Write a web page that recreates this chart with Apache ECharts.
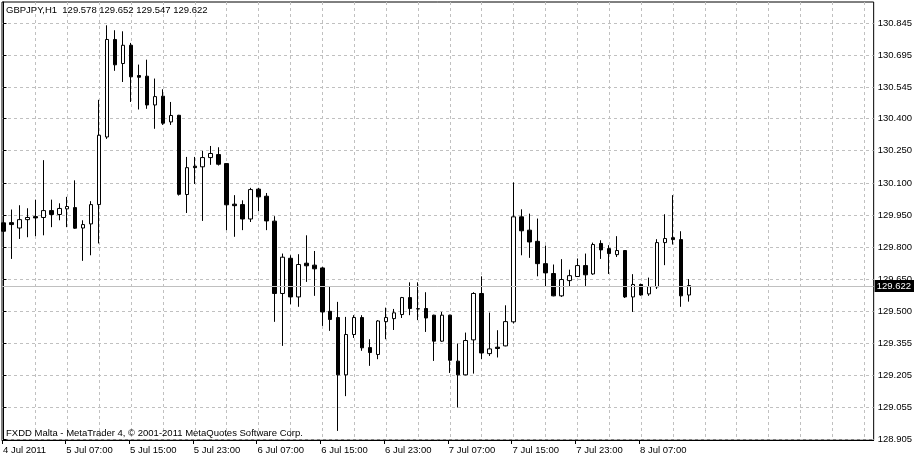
<!DOCTYPE html>
<html><head><meta charset="utf-8">
<script src="https://cdn.jsdelivr.net/npm/echarts@6/dist/echarts.min.js"></script>
<style>html,body{margin:0;padding:0;background:#fff}#c{width:915px;height:458px}</style>
</head><body><div id="c"></div>
<script>
// GBPJPY H1 candles (index 0 = 4 Jul 2011 23:00)
const opens = [129.914,129.915,129.890,129.929,129.943,129.939,129.971,129.953,129.979,129.985,
129.890,129.909,129.999,130.314,130.768,130.656,130.741,130.600,130.597,130.463,
130.504,130.384,130.415,130.046,130.178,130.175,130.218,130.232,130.190,130.001,
129.999,129.932,130.071,130.038,129.922,129.585,129.749,129.569,129.726,129.717,
129.704,129.502,129.473,129.206,129.394,129.473,129.333,129.301,129.454,129.468,
129.487,129.566,129.514,129.515,129.484,129.363,129.484,129.270,129.206,129.369,
129.585,129.305,129.335,129.341,129.453,129.942,129.880,129.828,129.724,129.678,
129.574,129.645,129.664,129.715,129.676,129.818,129.794,129.766,129.785,129.569,
129.627,129.583,129.616,129.822,129.845,129.836,129.578];
const closes = [129.875,129.906,129.929,129.939,129.937,129.971,129.953,129.981,129.990,129.889,
129.906,129.999,130.322,130.768,130.650,130.741,130.594,130.592,130.463,130.502,
130.378,130.414,130.047,130.171,130.171,130.218,130.237,130.187,129.998,129.994,
129.932,130.069,130.035,129.923,129.585,129.754,129.569,129.720,129.714,129.700,
129.499,129.464,129.206,129.394,129.473,129.332,129.310,129.457,129.473,129.495,
129.566,129.515,129.513,129.471,129.363,129.484,129.274,129.206,129.366,129.585,
129.308,129.327,129.329,129.454,129.942,129.877,129.825,129.724,129.681,129.574,
129.650,129.668,129.715,129.672,129.813,129.788,129.771,129.785,129.569,129.627,
129.578,129.617,129.822,129.841,129.836,129.574,129.622];
const lows = [129.844,129.746,129.839,129.847,129.852,129.856,129.894,129.926,129.894,129.886,
129.737,129.763,129.818,130.305,130.622,130.570,130.477,130.442,130.445,130.352,
130.370,130.370,130.041,129.960,130.095,129.923,130.184,130.181,129.880,129.849,
129.880,129.918,129.968,129.880,129.453,129.341,129.535,129.523,129.639,129.574,
129.434,129.411,128.945,129.107,129.378,129.318,129.248,129.279,129.372,129.415,
129.471,129.484,129.461,129.406,129.271,129.360,129.215,129.054,129.204,129.212,
129.279,129.294,129.287,129.339,129.445,129.763,129.751,129.665,129.616,129.572,
129.569,129.616,129.662,129.620,129.672,129.746,129.676,129.755,129.564,129.499,
129.575,129.574,129.606,129.717,129.813,129.523,129.547];
const highs = [130.024,129.976,129.996,129.982,130.022,130.206,130.022,130.005,130.035,130.112,
129.926,130.015,130.487,130.834,130.811,130.806,130.752,130.651,130.674,130.586,
130.536,130.477,130.417,130.221,130.221,130.249,130.272,130.266,130.192,130.043,
130.019,130.077,130.077,130.053,129.945,129.771,129.763,129.768,129.856,129.783,
129.709,129.616,129.546,129.476,129.484,129.484,129.372,129.461,129.519,129.513,
129.569,129.637,129.637,129.591,129.486,129.499,129.486,129.352,129.403,129.591,
129.665,129.496,129.414,129.530,130.102,129.977,129.957,129.934,129.808,129.720,
129.745,129.696,129.748,129.771,129.822,129.833,129.810,129.852,129.787,129.675,
129.631,129.659,129.838,129.954,130.043,129.875,129.652];

const xLabelIndex = [0,8,16,24,32,40,48,56,64,72,80];
const xLabels = ['4 Jul 2011','5 Jul 07:00','5 Jul 15:00','5 Jul 23:00','6 Jul 07:00','6 Jul 15:00',
  '6 Jul 23:00','7 Jul 07:00','7 Jul 15:00','7 Jul 23:00','8 Jul 07:00'];
const yTicks = [128.905,129.055,129.205,129.355,129.500,129.650,129.800,129.950,130.100,130.250,130.400,130.545,130.695,130.845];
const lastPrice = 129.622;
const titleText = 'GBPJPY,H1  129.578 129.652 129.547 129.622';
const footerText = 'FXDD Malta - MetaTrader 4, \u00a9 2001-2011 MetaQuotes Software Corp.';

const FONT = 'Liberation Sans';
const FS = 9.5;
const xMin = -0.1875, xMax = 109.1875;
const xGridIdx = [];
for (let i = 4; i <= 108; i += 4) xGridIdx.push(i);
const xTickPos = xLabelIndex.map(i => Math.max(i - 0.25, xMin));

const candleData = opens.map((o, i) => [i, o, closes[i], lows[i], highs[i]]);

const chart = echarts.init(document.getElementById('c'), null, {renderer: 'canvas'});
chart.setOption({
  animation: false,
  backgroundColor: '#fff',
  title: [
    {text: titleText, left: 6, top: 5, padding: 0,
     textStyle: {fontFamily: FONT, fontSize: FS, fontWeight: 'normal', color: '#000'}},
    {text: footerText, left: 6, top: 428, padding: 0,
     textStyle: {fontFamily: FONT, fontSize: FS, fontWeight: 'normal', color: '#000'}}
  ],
  grid: {left: 2, top: 2, right: 38, bottom: 18, show: true, borderColor: '#000', borderWidth: 1, backgroundColor: 'transparent'},
  xAxis: [
    {type: 'value', min: xMin, max: xMax, position: 'bottom',
     axisLine: {show: true, onZero: false, lineStyle: {color: '#000'}},
     axisTick: {show: true, customValues: xTickPos, length: 4, lineStyle: {color: '#000'}},
     axisLabel: {show: true, customValues: xTickPos, align: 'left', margin: 5, padding: [0,0,0,1],
       fontFamily: FONT, fontSize: FS, color: '#000',
       formatter: v => { const k = xLabelIndex.indexOf(Math.round((v + 0.25) / 8) * 8); return k >= 0 ? xLabels[k] : ''; }},
     splitLine: {show: false}},
    {type: 'value', min: xMin, max: xMax, position: 'top',
     axisLine: {show: false}, axisLabel: {show: false},
     axisTick: {show: false, customValues: xGridIdx},
     splitLine: {show: true, lineStyle: {color: '#c0c0c0', type: [3, 3], width: 1}}}
  ],
  yAxis: {
    type: 'value', position: 'right', min: 128.9027, max: 130.9425, scale: true,
    axisLine: {show: true, lineStyle: {color: '#000'}},
    axisTick: {show: true, customValues: yTicks, length: 3, lineStyle: {color: '#000'}},
    axisLabel: {show: true, customValues: yTicks, margin: 4, fontFamily: FONT, fontSize: FS, color: '#000',
      formatter: v => v.toFixed(3)},
    splitLine: {show: true, lineStyle: {color: '#c0c0c0', type: [3, 3], width: 1}}
  },
  series: [{
    type: 'candlestick',
    xAxisIndex: 0,
    barWidth: 4,
    data: candleData,
    itemStyle: {color: '#fff', color0: '#000', borderColor: '#000', borderColor0: '#000', borderWidth: 1},
    markLine: {
      silent: true, symbol: ['none', 'none'], animation: false,
      lineStyle: {color: '#c0c0c0', type: 'solid', width: 1},
      label: {show: true, position: 'end', distance: 1, formatter: lastPrice.toFixed(3),
        color: '#fff', backgroundColor: '#000', padding: [1, 3, 1, 2], fontFamily: FONT, fontSize: FS},
      data: [{yAxis: lastPrice}]
    }
  }]
});
</script>
</body></html>
